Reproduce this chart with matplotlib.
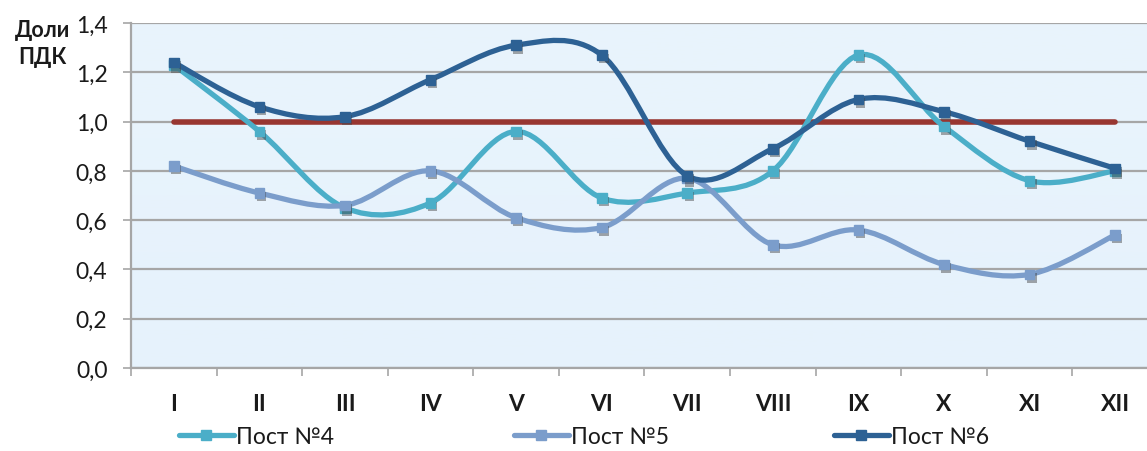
import numpy as np
import matplotlib.pyplot as plt
import matplotlib.patheffects as pe
from matplotlib.path import Path
from matplotlib.patches import PathPatch
from matplotlib.lines import Line2D
from matplotlib.ticker import FuncFormatter, MultipleLocator

# Concentrations in fractions of the maximum permissible level, by month
months = ['I', 'II', 'III', 'IV', 'V', 'VI', 'VII', 'VIII', 'IX', 'X', 'XI', 'XII']
post4 = [1.23, 0.96, 0.65, 0.67, 0.96, 0.69, 0.71, 0.80, 1.27, 0.98, 0.76, 0.80]
post5 = [0.82, 0.71, 0.66, 0.80, 0.61, 0.57, 0.77, 0.50, 0.56, 0.42, 0.38, 0.54]
post6 = [1.24, 1.06, 1.02, 1.17, 1.31, 1.27, 0.78, 0.89, 1.09, 1.04, 0.92, 0.81]
pdk_level = 1.0

series = [('Пост №4', post4, '#4BAEC8'),
          ('Пост №5', post5, '#7B9DCB'),
          ('Пост №6', post6, '#2D6194')]

plt.rcParams['font.family'] = ['Lato', 'DejaVu Sans']

fig = plt.figure(figsize=(11.47, 4.52), dpi=100)
ax = fig.add_axes([0.1142, 0.1836, 0.8954, 0.7633])

# light blue plot area with a soft vertical gradient
grad = np.linspace(0, 1, 256).reshape(-1, 1)
ax.imshow(grad, extent=[-0.5, 11.5, 0, 1.4], aspect='auto', origin='lower',
          cmap=plt.matplotlib.colors.LinearSegmentedColormap.from_list(
              'bg', ['#E6F2FC', '#E9F4FC']), zorder=0)

ax.set_xlim(-0.5, 11.5)
ax.set_ylim(0, 1.4)
ax.yaxis.set_major_locator(MultipleLocator(0.2))
ax.yaxis.set_major_formatter(FuncFormatter(lambda v, p: f'{v:.1f}'.replace('.', ',')))
ax.grid(axis='y', color='#A6A6A6', linewidth=1.6, zorder=1)
ax.set_axisbelow(True)

x = np.arange(len(months))
ax.set_xticks(x)
ax.set_xticklabels(months, fontsize=16.5, fontweight='bold', color='#1a1a1a')
ax.set_xticks(np.arange(-0.5, 12, 1), minor=True)
ax.tick_params(axis='x', which='major', length=0, pad=18)
ax.tick_params(axis='x', which='minor', length=6, width=1.2, color='#A6A6A6')
ax.tick_params(axis='y', length=6, width=1.2, color='#A6A6A6', pad=11,
               labelsize=16.5, labelcolor='#1a1a1a')

for side in ['top', 'right']:
    ax.spines[side].set_visible(False)
for side in ['left', 'bottom']:
    ax.spines[side].set_color('#A6A6A6')
    ax.spines[side].set_linewidth(1.6)

# limit line
ax.plot([x[0], x[-1]], [pdk_level, pdk_level], color='#983631', linewidth=4,
        solid_capstyle='round', zorder=2)


def smooth_path(xs, ys):
    # cubic Bezier segments through every point (Catmull-Rom style tangents)
    pts = np.column_stack([xs, ys]).astype(float)
    ext = np.vstack([pts[0], pts, pts[-1]])
    verts = [pts[0]]
    codes = [Path.MOVETO]
    for i in range(len(pts) - 1):
        p0, p1, p2, p3 = ext[i], ext[i + 1], ext[i + 2], ext[i + 3]
        verts += [p1 + (p2 - p0) / 6, p2 - (p3 - p1) / 6, p2]
        codes += [Path.CURVE4] * 3
    return Path(verts, codes)


shadow = [pe.SimplePatchShadow(offset=(1.5, -2.5), shadow_rgbFace='#404040', alpha=0.45),
          pe.Normal()]
handles = []
for z, (name, vals, col) in enumerate(series):
    ax.add_patch(PathPatch(smooth_path(x, vals), facecolor='none', edgecolor=col,
                           linewidth=3.8, capstyle='round', zorder=3 + z))
    ax.plot(x, vals, linestyle='none', marker='s', markersize=7, color=col,
            zorder=3 + z, path_effects=shadow)
    handles.append(Line2D([], [], color=col, linewidth=3.8, solid_capstyle='round',
                          marker='s', markersize=7))

for h, (name, _, _), xpos in zip(handles, series, [0.156, 0.448, 0.727]):
    fig.legend([h], [name], loc='center left', bbox_to_anchor=(xpos, 0.032),
               frameon=False, fontsize=16.5, handlelength=2.4, handletextpad=0.1,
               borderaxespad=0, borderpad=0, labelcolor='#1a1a1a')

fig.text(0.037, 0.955, 'Доли\nПДК', fontsize=15.5, fontweight='bold', ha='center',
         va='top', linespacing=1.35, color='#1a1a1a')

fig.savefig('out.png', dpi=100)
